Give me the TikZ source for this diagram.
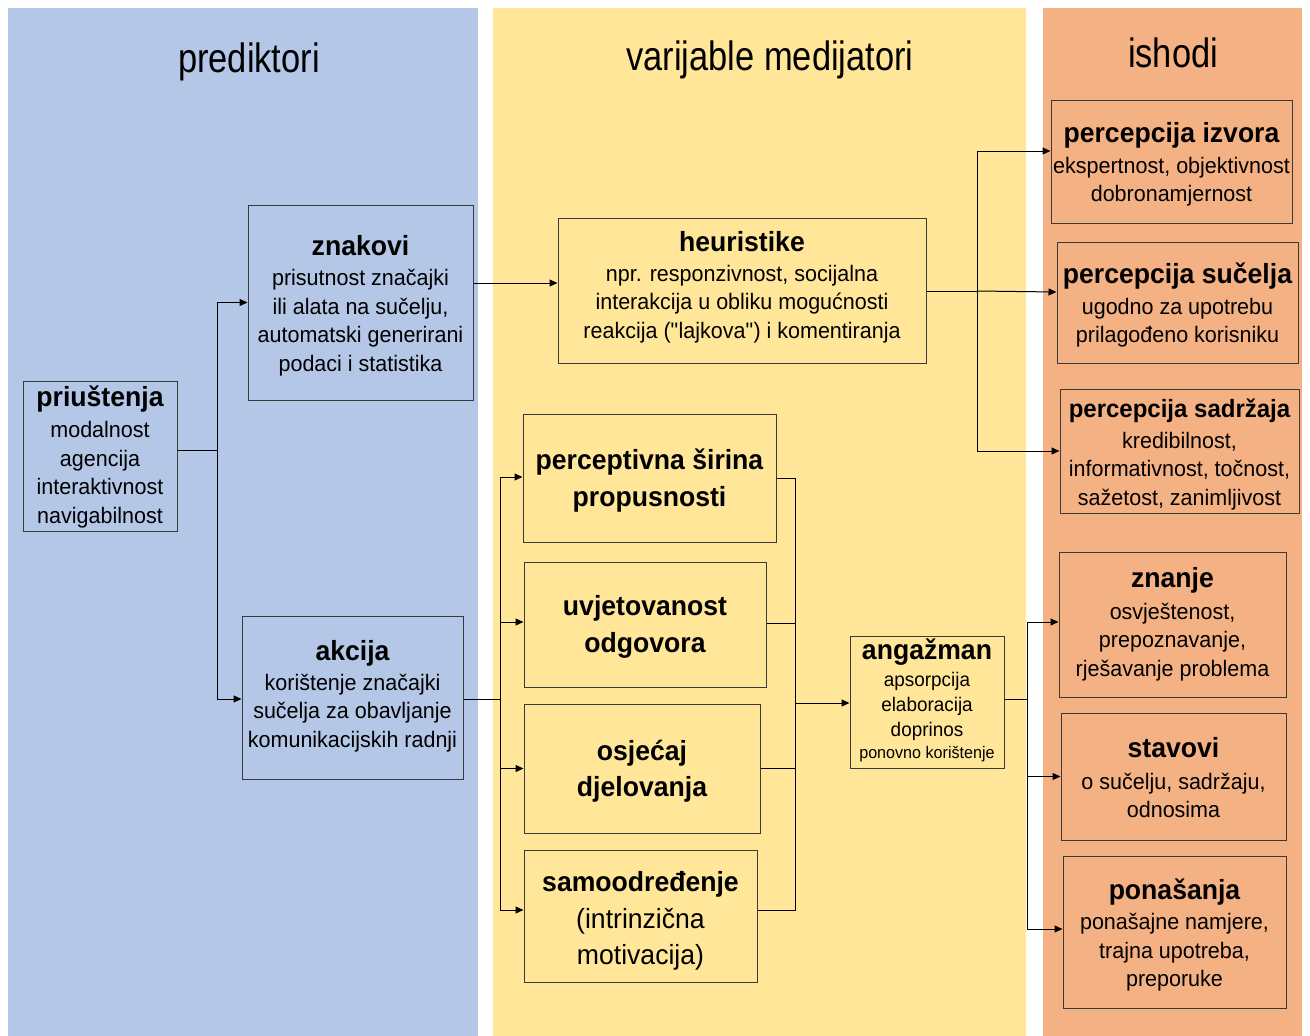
\documentclass[tikz,border=0pt]{standalone}
\usepackage{fontspec}
\setmainfont{Liberation Sans}[FakeStretch=0.96]
\newfontfamily\ttlfont{Liberation Sans}[FakeStretch=0.84]
\usetikzlibrary{arrows.meta,calc}
\definecolor{pblue}{HTML}{B4C7E7}
\definecolor{pyellow}{HTML}{FFE699}
\definecolor{porange}{HTML}{F4B183}
\definecolor{bline}{HTML}{3A3A3A}
% first line with a fixed height (H) so that the text block sits as in the reference
\newcommand{\fl}[2]{\rule{0pt}{#1}\smash{#2}}
\newcommand{\boxttl}[2]{{\bfseries\fontsize{27.7}{32}\selectfont\fl{#1}{#2}}}
\begin{document}
\begin{tikzpicture}[x=1pt,y=-1pt,
  box/.style={draw=bline,line width=1pt,inner sep=0pt,align=center,
    font=\fontsize{22.4}{28.5}\selectfont,text=black},
  bigbox/.style={box,font=\bfseries\fontsize{27.7}{36.5}\selectfont},
  conn/.style={draw=black,line width=1pt},
  arr/.style={conn,-{Triangle[length=8pt,width=7pt]}},
  paneltitle/.style={anchor=base,inner sep=0pt,font=\ttlfont\fontsize{41}{45}\selectfont}
]
\useasboundingbox (0,0) rectangle (1310,1036);
\fill[white] (0,0) rectangle (1310,1036);
% panels
\fill[pblue] (8,8) rectangle (478,1036);
\fill[pyellow] (493,8) rectangle (1026,1036);
\fill[porange] (1043,8) rectangle (1302,1036);
% panel titles
\node[paneltitle] (t1) at (249,72.5) {prediktori};
\node[paneltitle] (t2) at (770,70.5) {varijable medijatori};
\node[paneltitle] (t3) at (1173,67.5) {ishodi};

% predictor boxes
\node[box,minimum width=154pt,minimum height=150pt] (pri) at (100,456)
  {\boxttl{22.5pt}{priuštenja}\\[2.5pt]modalnost\\agencija\\interaktivnost\\navigabilnost};
\node[box,minimum width=225pt,minimum height=195pt] (znak) at (360.5,302.5)
  {\boxttl{26.2pt}{znakovi}\\[2pt]prisutnost značajki\\ili alata na sučelju,\\automatski generirani\\podaci i statistika};
\node[box,minimum width=221pt,minimum height=163pt] (akc) at (352.5,697.5)
  {\boxttl{17.2pt}{akcija}\\[1pt]korištenje značajki\\sučelja za obavljanje\\komunikacijskih radnji};

% mediator boxes
\node[box,minimum width=368pt,minimum height=145pt] (heur) at (742,290.5)
  {\boxttl{13.2pt}{heuristike}\\[1pt]npr. responzivnost, socijalna\\interakcija u obliku mogućnosti\\reakcija (\textquotedbl lajkova\textquotedbl) i komentiranja};
\node[bigbox,minimum width=253pt,minimum height=128pt] (perc) at (649.5,478)
  {\fl{26pt}{perceptivna širina}\\propusnosti};
\node[bigbox,minimum width=242pt,minimum height=125pt] (uvj) at (645,624.5)
  {\fl{25.2pt}{uvjetovanost}\\odgovora};
\node[bigbox,minimum width=236pt,minimum height=129pt] (osj) at (642,768.5)
  {\fl{26pt}{osjećaj}\\djelovanja};
\node[bigbox,minimum width=233pt,minimum height=132pt] (samo) at (640.5,916)
  {\fl{30pt}{samoodređenje}\\{\mdseries(intrinzična}\\{\mdseries motivacija)}};
\node[box,minimum width=154pt,minimum height=132pt,font=\fontsize{19.7}{25}\selectfont] (ang) at (927,702)
  {\boxttl{17.2pt}{angažman}\\[2pt]apsorpcija\\elaboracija\\doprinos\\[-3pt]{\fontsize{16.8}{20}\selectfont ponovno korištenje}};

% outcome boxes
\node[box,minimum width=241pt,minimum height=123pt] (izv) at (1171.5,161.5)
  {\boxttl{26.2pt}{percepcija izvora}\\[2pt]ekspertnost, objektivnost\\dobronamjernost};
\node[box,minimum width=241pt,minimum height=121pt] (suc) at (1177.5,302.5)
  {\boxttl{26pt}{percepcija sučelja}\\[2pt]ugodno za upotrebu\\prilagođeno korisniku};
\node[box,minimum width=239pt,minimum height=124pt] (sad) at (1179.5,451)
  {{\bfseries\fontsize{25}{30}\selectfont\fl{25.5pt}{percepcija sadržaja}}\\[2pt]kredibilnost,\\informativnost, točnost,\\sažetost, zanimljivost};
\node[box,minimum width=227pt,minimum height=145pt] (zna) at (1172.5,624.5)
  {\boxttl{19.2pt}{znanje}\\[3pt]osvještenost,\\prepoznavanje,\\rješavanje problema};
\node[box,minimum width=225pt,minimum height=127pt] (sta) at (1173.5,776.5)
  {\boxttl{23.2pt}{stavovi}\\[3pt]o sučelju, sadržaju,\\odnosima};
\node[box,minimum width=223pt,minimum height=152pt] (pon) at (1174.5,932)
  {\boxttl{27pt}{ponašanja}\\[2pt]ponašajne namjere,\\trajna upotreba,\\preporuke};

% junction coordinates
\coordinate (jA) at (217,450);
\coordinate (zh) at (500,283);
\coordinate (jB) at (977,291);
\coordinate (jC) at (500,699);
\coordinate (jD) at (795,703);
\coordinate (jE) at (1027,699);

% connectors: predictors
\draw[conn] ([yshift=6pt]pri.east) -- (jA);
\draw[arr] (jA) |- (znak.west);
\draw[arr] (jA) |- ([yshift=-1.5pt]akc.west);
% znakovi -> heuristike
\draw[arr] (znak.east |- zh) -- (heur.west |- zh);
% heuristike -> perceptions
\draw[conn] (heur.east |- jB) -- (jB);
\draw[arr] (jB) |- ([yshift=10.5pt]izv.west);
\draw[arr] (jB) -- ([yshift=10.5pt]suc.west);
\draw[arr] (jB) |- (sad.west);
% akcija -> mediators
\draw[conn] (akc.east |- jC) -- (jC);
\draw[arr] (jC) |- ([yshift=1pt]perc.west);
\draw[arr] (jC) |- ([yshift=2.5pt]uvj.west);
\draw[arr] (jC) |- (osj.west);
\draw[arr] (jC) |- ([yshift=6pt]samo.west);
% mediators -> angazman
\draw[conn] (perc.east) -| (jD);
\draw[conn] ([yshift=1.5pt]uvj.east) -| (jD);
\draw[conn] (osj.east) -| (jD);
\draw[conn] ([yshift=6pt]samo.east) -| (jD);
\draw[arr] (jD) -- (ang.west |- jD);
% angazman -> outcomes
\draw[conn] ([yshift=3pt]ang.east) -- (jE);
\draw[arr] (jE) |- ([yshift=2.5pt]zna.west);
\draw[arr] (jE) |- (sta.west);
\draw[arr] (jE) |- ([yshift=3pt]pon.west);
\end{tikzpicture}
\end{document}
